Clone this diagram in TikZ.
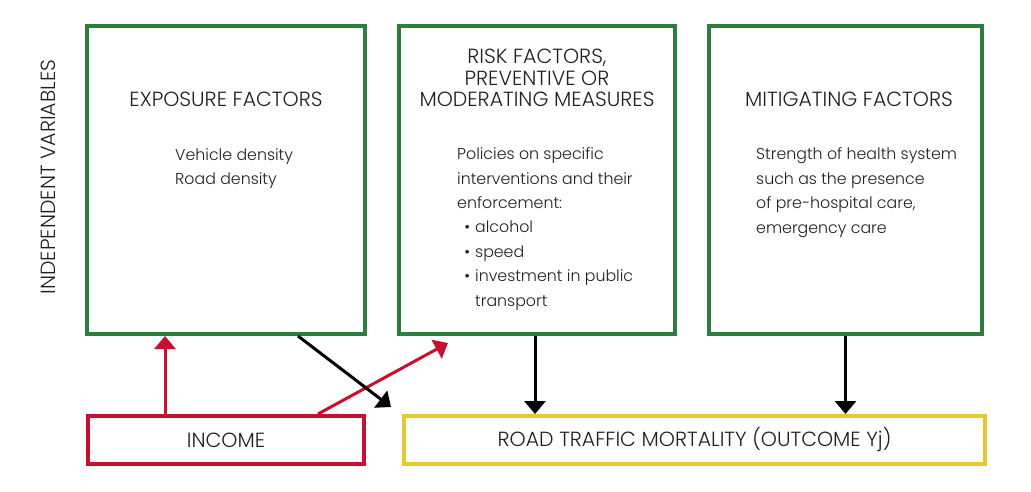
\documentclass[tikz,border=0pt]{standalone}
\usepackage{fontspec}
\setmainfont{Poppins}[UprightFont=* Light]
\usetikzlibrary{arrows.meta,positioning}
\definecolor{boxgreen}{HTML}{2D7D3C}
\definecolor{boxred}{HTML}{C8102E}
\definecolor{boxyellow}{HTML}{E6C92E}
\definecolor{txtgray}{HTML}{231F20}

\newcommand{\bul}{\makebox[18pt][r]{\textbullet\hspace{5pt}}}

\tikzset{
  factorbox/.style={draw=boxgreen, line width=4pt, minimum width=#1, minimum height=308pt, inner sep=0pt},
  incbox/.style={draw=boxred, line width=4pt, minimum height=48pt, inner sep=0pt},
  outbox/.style={draw=boxyellow, line width=4pt, minimum height=48pt, inner sep=0pt},
  headtxt/.style={text=txtgray, font=\fontsize{20.5}{21.8}\selectfont, align=center, inner sep=0pt},
  bodytxt/.style={text=txtgray, font=\fontsize{15.8}{24.4}\selectfont, align=left, anchor=base west, inner sep=0pt},
  redarrow/.style={draw=boxred, line width=3pt, -{Triangle[width=21pt,length=13pt]}},
  blackarrow/.style={draw=black, line width=3pt, -{Triangle[width=21pt,length=13pt]}}
}

\begin{document}
\begin{tikzpicture}[x=1pt,y=-1pt]
  \useasboundingbox (0,0) rectangle (1031,492);

  % Seitenbeschriftung
  \node[headtxt, rotate=90] (indep) at (48,177) {INDEPENDENT VARIABLES};

  % obere Kaesten
  \node[factorbox=278pt] (exposure) at (226,180) {};
  \node[factorbox=276pt] (risk) at (537,180) {};
  \node[factorbox=273pt] (mitig) at (845.5,180) {};

  % untere Kaesten
  \node[incbox, minimum width=276pt] (income) at (226,440) {};
  \node[outbox, minimum width=581pt] (road) at (694.5,440) {};

  % Texte (Basislinie = letzte Zeile)
  \node[headtxt, anchor=base] (exptitle) at (226,107) {EXPOSURE FACTORS};
  \node[bodytxt] (expbody) at (175,185) {Vehicle density\\Road density};

  \node[headtxt, anchor=base] (risktitle) at (537,107) {RISK FACTORS,\\PREVENTIVE OR\\MODERATING MEASURES};
  \node[bodytxt] (riskbody) at (457,306) {Policies on specific\\interventions and their\\enforcement:\\
    \bul alcohol\\
    \bul speed\\
    \bul investment in public\\
    \hspace*{18pt}transport};

  \node[headtxt, anchor=base] (mittitle) at (849,107) {MITIGATING FACTORS};
  \node[bodytxt] (mitbody) at (756,233) {Strength of health system\\such as the presence\\of pre-hospital care,\\emergency care};

  \node[headtxt] (inctxt) at (income) {INCOME};
  \node[headtxt] (roadtxt) at (road) {ROAD TRAFFIC MORTALITY (OUTCOME Yj)};

  % Pfeile
  \draw[redarrow] ([xshift=-61pt]income.north) -- ([xshift=-61pt]income.north |- exposure.south);
  \draw[redarrow] ([xshift=92pt]income.north) -- ([xshift=-89pt,yshift=-7pt]risk.south);
  \draw[blackarrow] ([xshift=72pt]exposure.south) -- ([xshift=-11pt,yshift=7pt]road.north west);
  \draw[blackarrow] ([xshift=-2pt]risk.south) -- ([xshift=-2pt]risk.south |- road.north);
  \draw[blackarrow] (mitig.south) -- (mitig.south |- road.north);
\end{tikzpicture}
\end{document}
